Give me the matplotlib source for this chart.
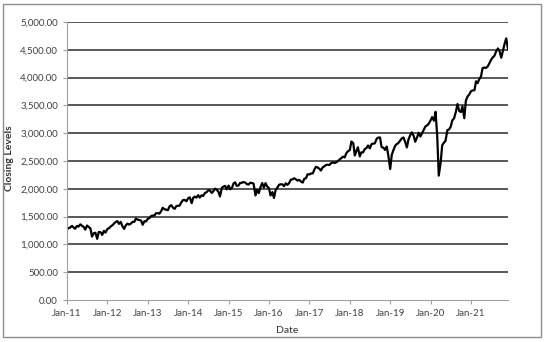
import matplotlib
matplotlib.use("Agg")
import matplotlib.pyplot as plt
import matplotlib.dates as mdates
from matplotlib.ticker import FuncFormatter
import pandas as pd

# closes, one on the 1st and one on the 15th of each month
closes_2011 = [1271, 1293, 1307, 1332, 1306, 1281, 1332, 1320, 1361, 1337, 1315, 1266,
               1339, 1316, 1287, 1140, 1204, 1209, 1100, 1224, 1218, 1170, 1244, 1212]
closes_2012 = [1277, 1290, 1324, 1344, 1374, 1402, 1419, 1370, 1405, 1330, 1278, 1342,
               1374, 1356, 1375, 1405, 1406, 1465, 1444, 1440, 1427, 1353, 1416, 1413]
closes_2013 = [1462, 1472, 1513, 1520, 1518, 1560, 1562, 1553, 1597, 1659, 1631, 1626,
               1614, 1682, 1706, 1661, 1640, 1688, 1695, 1698, 1762, 1798, 1800, 1775]
closes_2014 = [1831, 1848, 1742, 1838, 1859, 1841, 1885, 1842, 1883, 1870, 1924, 1937,
               1973, 1973, 1925, 1955, 2003, 1985, 1946, 1862, 2018, 2039, 2053, 1990]
closes_2015 = [2058, 1992, 2020, 2097, 2117, 2053, 2059, 2106, 2108, 2122, 2111, 2084,
               2077, 2108, 2104, 2092, 1880, 1978, 1923, 2023, 2104, 2023, 2102, 2043]
closes_2016 = [2012, 1880, 1940, 1835, 1978, 2016, 2072, 2081, 2081, 2047, 2099, 2071,
               2102, 2161, 2171, 2190, 2170, 2147, 2161, 2133, 2111, 2180, 2191, 2262]
closes_2017 = [2258, 2275, 2279, 2349, 2395, 2385, 2359, 2329, 2388, 2402, 2430, 2433,
               2429, 2459, 2476, 2465, 2476, 2500, 2529, 2553, 2579, 2564, 2642, 2675]
closes_2018 = [2696, 2850, 2822, 2600, 2677, 2747, 2582, 2656, 2655, 2711, 2735, 2779,
               2727, 2801, 2813, 2818, 2902, 2920, 2924, 2750, 2740, 2700, 2760, 2599]
closes_2019 = [2355, 2610, 2706, 2775, 2803, 2822, 2867, 2905, 2923, 2850, 2744, 2886,
               2964, 3014, 2953, 2847, 2926, 3007, 2940, 2995, 3066, 3120, 3141, 3169]
closes_2020 = [3231, 3289, 3225, 3385, 2954, 2237, 2470, 2783, 2830, 2863, 3056, 3066,
               3115, 3227, 3271, 3373, 3526, 3401, 3380, 3483, 3270, 3585, 3662, 3695]
closes_2021 = [3756, 3768, 3774, 3934, 3901, 3968, 4020, 4170, 4181, 4173, 4202, 4255,
               4320, 4360, 4395, 4468, 4524, 4480, 4357, 4471, 4614, 4705, 4513]

closes = (closes_2011 + closes_2012 + closes_2013 + closes_2014 + closes_2015 +
          closes_2016 + closes_2017 + closes_2018 + closes_2019 + closes_2020 + closes_2021)
dates = pd.date_range("2011-01-01", periods=len(closes), freq="SMS")

tick_dates = pd.date_range("2011-01-01", "2021-01-01", freq="YS")
y_ticks = [0, 500, 1000, 1500, 2000, 2500, 3000, 3500, 4000, 4500, 5000]

plt.rcParams["font.family"] = ["Lato", "DejaVu Sans"]

fig = plt.figure(figsize=(5.47, 3.42), dpi=100)
# marco exterior gris
fig.patches.append(plt.Rectangle((3 / 547, 5 / 342), 538 / 547, 333 / 342,
                                 transform=fig.transFigure, fill=False,
                                 edgecolor="#8c8c8c", linewidth=1.0))

ax = fig.add_axes([67 / 547, 42 / 342, 441 / 547, 278 / 342])
ax.plot(dates, closes, color="black", linewidth=1.6)

ax.set_ylim(0, 5000)
ax.set_xlim(dates[0], dates[-1])
ax.set_yticks(y_ticks)
ax.yaxis.set_major_formatter(FuncFormatter(lambda v, p: f"{v:,.2f}"))
ax.set_xticks(tick_dates)
ax.xaxis.set_major_formatter(mdates.DateFormatter("Jan-%y"))

for y in y_ticks[1:]:
    ax.axhline(y, color="#2a2a2a", linewidth=1.1, zorder=0)

for side in ["top", "right"]:
    ax.spines[side].set_visible(False)
ax.spines["left"].set_color("#a0a0a0")
ax.spines["bottom"].set_color("#a0a0a0")
ax.tick_params(axis="both", colors="#a0a0a0", length=3, labelcolor="#404040", labelsize=7)

ax.set_ylabel("Closing Levels", fontsize=7.5, fontweight="bold", color="#333333")
ax.yaxis.set_label_coords(-0.12, 0.51)
ax.set_xlabel("Date", fontsize=7.5, color="#333333", labelpad=6)

fig.savefig("out.png", dpi=100)
